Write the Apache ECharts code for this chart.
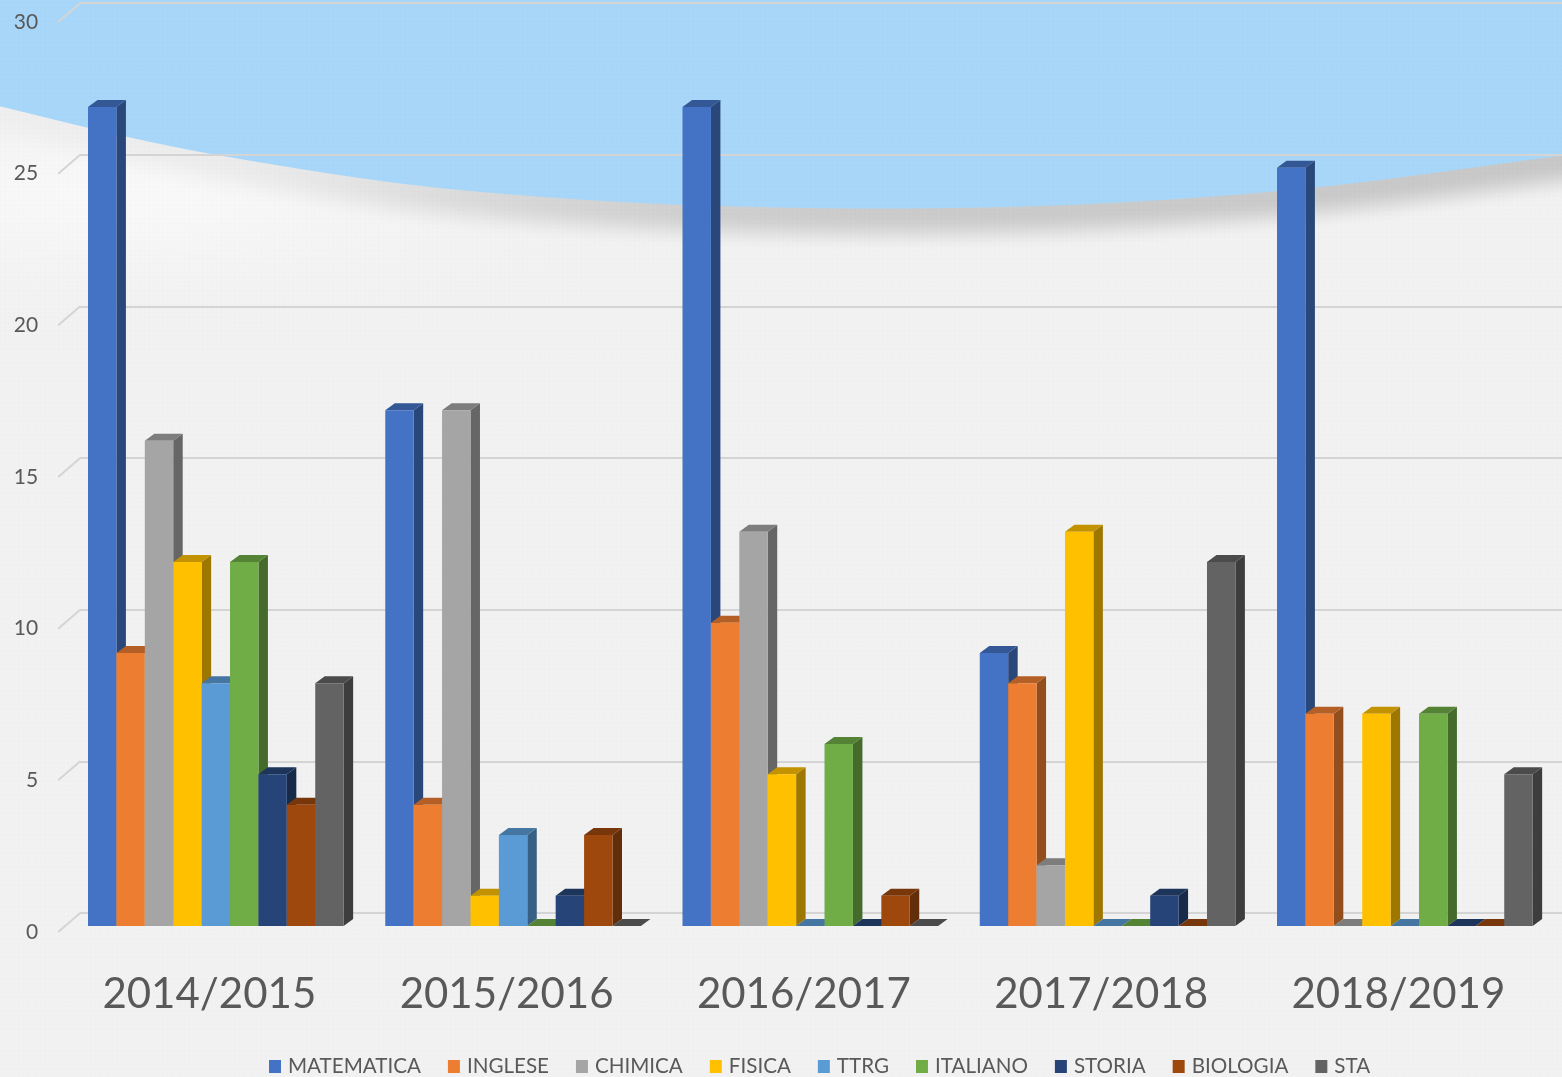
<!DOCTYPE html>
<html><head><meta charset="utf-8">
<style>html,body{margin:0;padding:0;background:#f1f1f1}#c{width:1562px;height:1077px}</style>
<script src="https://cdn.jsdelivr.net/npm/echarts@6/dist/echarts.min.js"></script>
</head><body><div id="c"></div>
<script>
const categories = ['2014/2015','2015/2016','2016/2017','2017/2018','2018/2019'];
const tickValues = [0,5,10,15,20,25,30];
const MATEMATICA = [27,17,27,9,25];
const INGLESE    = [9,4,10,8,7];
const CHIMICA    = [16,17,13,2,0];
const FISICA     = [12,1,5,13,7];
const TTRG       = [8,3,0,0,0];
const ITALIANO   = [12,0,6,0,7];
const STORIA     = [5,1,0,1,0];
const BIOLOGIA   = [4,3,1,0,0];
const STA        = [8,0,0,12,5];
const seriesNames = ['MATEMATICA','INGLESE','CHIMICA','FISICA','TTRG','ITALIANO','STORIA','BIOLOGIA','STA'];
const seriesValues = [MATEMATICA,INGLESE,CHIMICA,FISICA,TTRG,ITALIANO,STORIA,BIOLOGIA,STA];
const colors = ['#4472C4','#ED7D31','#A5A5A5','#FFC000','#5B9BD5','#70AD47','#264478','#9E480E','#636363'];

const GAP = 0.14, DX = 9.5, DY = 7;
function shade(hex,k){
  const n=parseInt(hex.slice(1),16);
  return 'rgb('+[(n>>16)&255,(n>>8)&255,n&255].map(v=>Math.round(v*k)).join(',')+')';
}
function bar3d(si){
  return function(params,api){
    const c=api.value(0), v=api.value(1);
    const top=api.coord([c,v]), base=api.coord([c,0]);
    const band=api.size([1,0])[0];
    const w=band*(1-GAP)/seriesNames.length;
    const x0=top[0]-band*(1-GAP)/2+si*w, x1=x0+w, yt=top[1], yb=base[1];
    const col=colors[si], ch=[];
    ch.push({type:'polygon',shape:{points:[[x1,yt],[x1+DX,yt-DY],[x1+DX,yb-DY],[x1,yb]]},style:{fill:shade(col,0.62)}});
    ch.push({type:'polygon',shape:{points:[[x0,yt],[x0+DX,yt-DY],[x1+DX,yt-DY],[x1,yt]]},style:{fill:shade(col,0.76)}});
    if(v>0) ch.push({type:'rect',shape:{x:x0,y:yt,width:w,height:yb-yt},style:{fill:col}});
    return {type:'group',children:ch};
  };
}
// decorative backdrop: blue swoosh, soft shadow under it, faint woven texture
// smooth monotone-free cubic interpolation (uniform Hermite with finite-difference slopes)
function smoothTable(tbl,x){
  const n=tbl.length;
  let i=0; while(i<n-2 && x>tbl[i+1][0]) i++;
  const x0=tbl[i][0],x1=tbl[i+1][0],h=x1-x0,t=(x-x0)/h;
  const slope=j=>{const a=tbl[Math.max(j-1,0)],b=tbl[Math.min(j+1,n-1)];return (b[1]-a[1])/(b[0]-a[0]);};
  const m0=slope(i),m1=slope(i+1),t2=t*t,t3=t2*t;
  return (2*t3-3*t2+1)*tbl[i][1]+(t3-2*t2+t)*h*m0+(-2*t3+3*t2)*tbl[i+1][1]+(t3-t2)*h*m1;
}
const curvePts=[[0,106],[125,136],[225,156],[400,183],[550,197],[700,205],[900,208],[1100,203],[1315,187],[1562,155]];
const shadowDepth=[[0,4],[125,8],[300,14],[500,26],[700,34],[900,38],[1300,40],[1562,42]];
function makeBackdrop(){
  const W=1562,H=1077,cv=document.createElement('canvas');cv.width=W;cv.height=H;
  const g=cv.getContext('2d'),im=g.createImageData(W,H),d=im.data;
  for(let x=0;x<W;x++){
    const yc=smoothTable(curvePts,x),S=smoothTable(shadowDepth,x);
    for(let y=0;y<H;y++){
      const tex=1.5*Math.sin(2*Math.PI*(x+y)/9)*Math.sin(2*Math.PI*(x-y)/9);
      const dist=y-yc,t=Math.max(0,Math.min(1,(dist/44-0.15)/0.85));
      const fall=0.5+0.5*Math.cos(Math.PI*t);
      const hx=(x-130)/260,hy=(y-195)/70;
      const hi=7*Math.exp(-(hx*hx+hy*hy));
      const v=241-S*fall+hi+tex;
      const mix=Math.max(0,Math.min(1,dist+0.5));
      const i=(y*W+x)*4;
      d[i]=(168+tex)*(1-mix)+v*mix;
      d[i+1]=(214+tex)*(1-mix)+v*mix;
      d[i+2]=(248+tex)*(1-mix)+v*mix;
      d[i+3]=255;
    }
  }
  g.putImageData(im,0,0);
  return cv;
}
const chart=echarts.init(document.getElementById('c'),null,{renderer:'canvas'});
const series=[
  {type:'custom',name:'wall',silent:true,xAxisIndex:0,yAxisIndex:0,z:1,
   data:tickValues.map(v=>[0,v]),
   renderItem:function(p,api){
     const pt=api.coord([0,api.value(1)]), band=api.size([1,0])[0];
     const x0=pt[0]-band/2;
     return {type:'line',shape:{x1:x0-9,y1:pt[1]+6,x2:x0+13,y2:pt[1]-13},style:{stroke:'#d4d4d4',lineWidth:2}};
   }}
];
seriesNames.forEach((name,si)=>{
  series.push({type:'custom',name,coordinateSystem:'cartesian2d',xAxisIndex:0,yAxisIndex:0,z:5+si,
    itemStyle:{color:colors[si]},
    encode:{x:0,y:1},
    data:seriesValues[si].map((v,c)=>[c,v]),
    renderItem:bar3d(si)});
});
chart.setOption({
  animation:false,
  backgroundColor:'transparent',
  graphic:{elements:[{type:'image',silent:true,z:-10,left:0,top:0,style:{image:makeBackdrop(),x:0,y:0,width:1562,height:1077}}]},
  textStyle:{fontFamily:'Lato'},
  legend:{data:seriesNames,left:269,top:1056,padding:0,itemWidth:12,itemHeight:13,itemGap:27,icon:'rect',
    textStyle:{color:'#595959',fontSize:20.6,fontFamily:'Lato',padding:[0,0,0,2]}},
  grid:[
    {left:67.2,top:16,width:1486.25,height:910},
    {left:80,top:3,right:0,height:910}
  ],
  xAxis:[
    {type:'category',gridIndex:0,data:categories,axisLine:{show:false},axisTick:{show:false},
     axisLabel:{color:'#595959',fontSize:42,fontFamily:'Lato',margin:47,padding:[0,13,0,0]}},
    {type:'category',gridIndex:1,data:categories,show:false}
  ],
  yAxis:[
    {type:'value',gridIndex:0,min:0,max:30,interval:5,axisLine:{show:false},axisTick:{show:false},splitLine:{show:false},
     axisLabel:{color:'#595959',fontSize:21,fontFamily:'Lato',margin:29,verticalAlign:'top',lineHeight:12}},
    {type:'value',gridIndex:1,min:0,max:30,interval:5,axisLine:{show:false},axisTick:{show:false},axisLabel:{show:false},
     splitLine:{show:true,lineStyle:{color:'#d4d4d4',width:2}}}
  ],
  series
});
</script></body></html>
